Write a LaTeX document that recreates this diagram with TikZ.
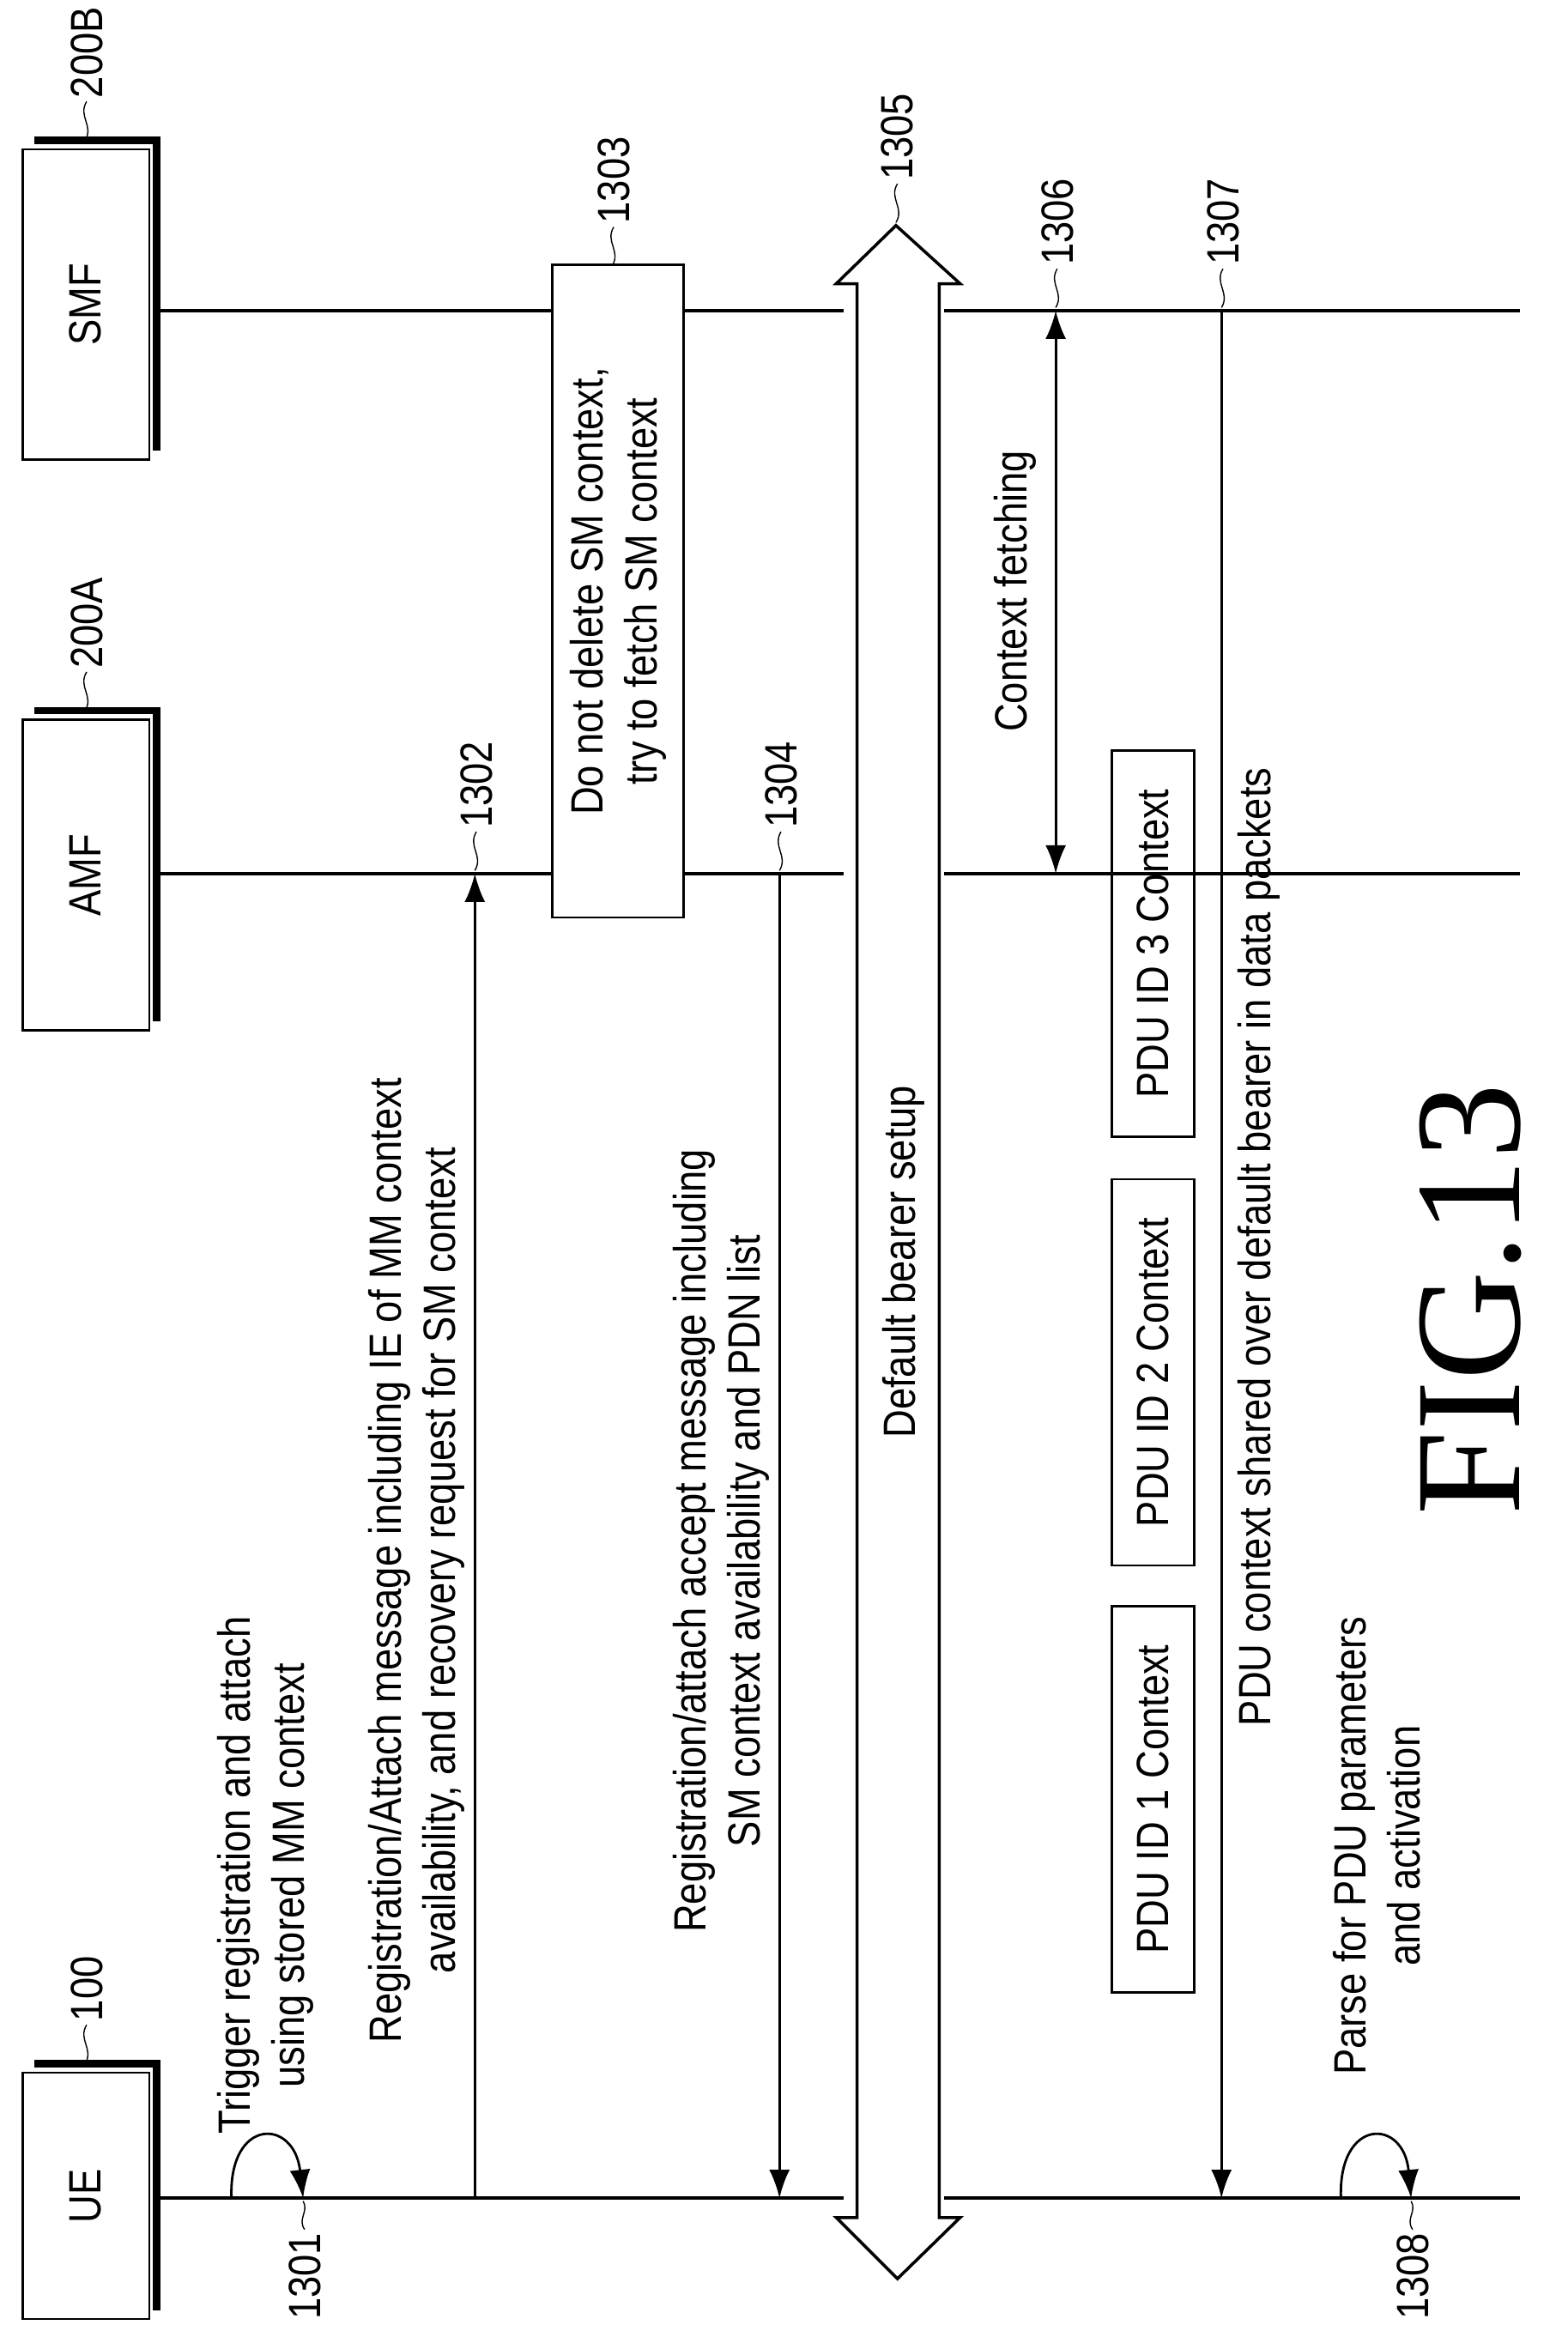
\documentclass[tikz,border=0pt]{standalone}
\usepackage{fontspec}
\setmainfont{Liberation Sans}[FakeStretch=0.86]
\newfontfamily\figfont{Liberation Serif}
\usetikzlibrary{arrows.meta}

\tikzset{
  msg/.style={rotate=90, align=center, font=\fontsize{15}{18}\selectfont},
  pdubox/.style={draw, line width=0.8pt, rotate=90, minimum height=0.96cm, minimum width=4.5cm, font=\fontsize{15}{18}\selectfont},
  refnum/.style={rotate=90, inner sep=1pt, font=\fontsize{15}{18}\selectfont},
  life/.style={line width=1pt},
  sig/.style={line width=0.8pt, -{Latex[length=3.3mm,width=2.4mm]}},
  tilde/.style={line width=0.4pt},
}

\begin{document}
\begin{tikzpicture}[x=0.0174cm, y=-0.0174cm]
\useasboundingbox (0,0) rectangle (1050,1557);

%Entities
\foreach \t/\b/\n in {1388/1553/UE, 482/690/AMF, 100/308/SMF}{
  \draw[line width=2.4pt] (23,\t-6) -- (105,\t-6) -- (105,\b-6);
  \draw[line width=0.8pt, fill=white] (15,\t) rectangle (100,\b);
  \node[rotate=90, font=\fontsize{15}{18}\selectfont] (\n) at (57,{(\t+\b)/2}) {\n};
}

%Lifelines
\coordinate (ueA) at (105,1472);  \coordinate (ueB) at (565,1472);
\coordinate (ueC) at (632,1472);  \coordinate (ueD) at (1018,1472);
\coordinate (amfA) at (105,585);  \coordinate (amfB) at (565,585);
\coordinate (amfC) at (632,585);  \coordinate (amfD) at (1018,585);
\coordinate (smfA) at (105,208);  \coordinate (smfB) at (565,208);
\coordinate (smfC) at (632,208);  \coordinate (smfD) at (1018,208);
\foreach \l in {ue, amf, smf}{
  \draw[life] (\l A) -- (\l B);
  \draw[life] (\l C) -- (\l D);
}

%Reference numbers
\draw[tilde] (57,1382) .. controls (63,1372) and (52,1366) .. (58,1356)
  node[refnum, anchor=west] {100};
\draw[tilde] (57,476) .. controls (63,466) and (52,460) .. (58,450)
  node[refnum, anchor=west] {200A};
\draw[tilde] (57,94) .. controls (63,84) and (52,78) .. (58,68)
  node[refnum, anchor=west] {200B};

%Step 1301
\coordinate (loopA) at (155,1472);
\coordinate (loopB) at (203,1472);
\draw[sig] (loopA) .. controls (153,1418) and (197,1418) .. (loopB);
\node[msg] (txt1301) at (178,1256) {Trigger registration and attach\\using stored MM context};
\draw[tilde] (203,1474) .. controls (207,1481) and (199,1486) .. (204,1493)
  node[refnum, anchor=east] {1301};

%Step 1302
\coordinate (ue1302) at (318,1472);
\coordinate (amf1302) at (318,585);
\draw[sig] (ue1302) -- (amf1302);
\node[msg] (txt1302) at (279,1045) {Registration/Attach message including IE of MM context\\availability, and recovery request for SM context};
\draw[tilde] (318,583) .. controls (324,573) and (313,567) .. (319,557)
  node[refnum, anchor=west] {1302};

%Step 1303
\node[draw, line width=0.8pt, fill=white, rotate=90, minimum width=7.6cm, minimum height=1.53cm,
  align=center, font=\fontsize{15}{18}\selectfont] (box1303) at (414,396) {Do not delete SM context,\\try to fetch SM context};
\draw[tilde] (410,178) .. controls (416,168) and (405,162) .. (411,152)
  node[refnum, anchor=west] {1303};

%Step 1304
\coordinate (amf1304) at (522,585);
\coordinate (ue1304) at (522,1472);
\draw[sig] (amf1304) -- (ue1304);
\node[msg] (txt1304) at (483,1032) {Registration/attach accept message including\\SM context availability and PDN list};
\draw[tilde] (522,583) .. controls (528,573) and (517,567) .. (523,557)
  node[refnum, anchor=west] {1304};

%Step 1305
\draw[line width=1pt, fill=white] (574,1485) -- (574,190) -- (560,190) -- (600,151) -- (643,190)
  -- (629,190) -- (629,1485) -- (643,1485) -- (601,1526) -- (560,1485) -- cycle;
\node[msg] (txt1305) at (605,845) {Default bearer setup};
\draw[tilde] (600,149) .. controls (606,139) and (595,133) .. (601,123)
  node[refnum, anchor=west] {1305};

%Step 1306
\coordinate (smf1306) at (707,208);
\coordinate (amf1306) at (707,585);
\draw[sig, {Latex[length=3.3mm,width=2.4mm]}-{Latex[length=3.3mm,width=2.4mm]}] (smf1306) -- (amf1306);
\node[msg] (txt1306) at (680,396) {Context fetching};
\draw[tilde] (707,206) .. controls (713,196) and (702,190) .. (708,180)
  node[refnum, anchor=west] {1306};

%PDU contexts
\node[pdubox] (pdu1) at (772,1205) {PDU ID 1 Context};
\node[pdubox] (pdu2) at (772,919) {PDU ID 2 Context};
\node[pdubox] (pdu3) at (772,632) {PDU ID 3 Context};

%Step 1307
\coordinate (smf1307) at (818,208);
\coordinate (ue1307) at (818,1472);
\draw[sig] (smf1307) -- (ue1307);
\node[msg] (txt1307) at (843,835) {PDU context shared over default bearer in data packets};
\draw[tilde] (818,206) .. controls (824,196) and (813,190) .. (819,180)
  node[refnum, anchor=west] {1307};

%Step 1308
\coordinate (loopC) at (898,1472);
\coordinate (loopD) at (945,1472);
\draw[sig] (loopC) .. controls (896,1418) and (940,1418) .. (loopD);
\node[msg] (txt1308) at (922,1236) {Parse for PDU parameters\\and activation};
\draw[tilde] (945,1474) .. controls (949,1481) and (941,1486) .. (946,1493)
  node[refnum, anchor=east] {1308};

%Figure caption
\node[rotate=90, font=\figfont\fontsize{50}{60}\selectfont] (caption) at (985,870) {FIG.13};
\end{tikzpicture}
\end{document}
